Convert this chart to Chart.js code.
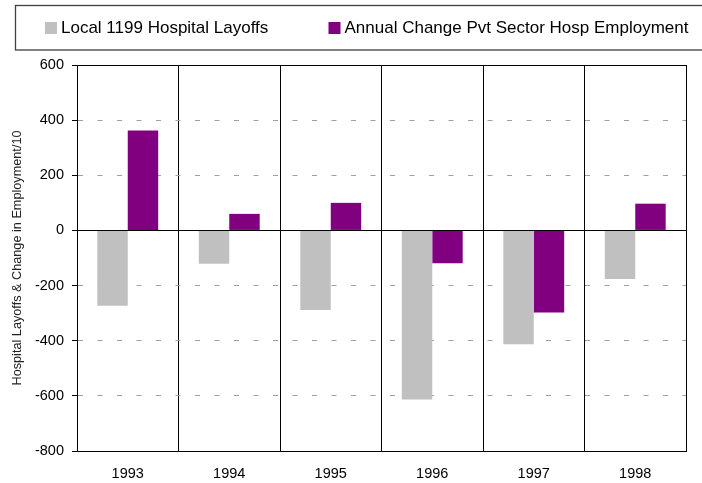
<!DOCTYPE html>
<html>
<head>
<meta charset="utf-8">
<script src="https://cdn.jsdelivr.net/npm/chart.js@4.4.1/dist/chart.umd.min.js"></script>
<style>
  html, body { margin: 0; padding: 0; background: #ffffff; }
  #wrap { width: 702px; height: 483px; position: relative; }
</style>
</head>
<body>
<div id="wrap"><canvas id="c" width="702" height="483"></canvas></div>
<script>
const categories = ['1993', '1994', '1995', '1996', '1997', '1998'];
const layoffs = [-273, -121, -289, -613, -413, -176];
const employmentChange = [362, 60, 100, -119, -298, 97];
const seriesNames = ['Local 1199 Hospital Layoffs', 'Annual Change Pvt Sector Hosp Employment'];
const yMin = -800, yMax = 600, yStep = 200;
const yTitle = 'Hospital Layoffs & Change in Employment/10';

const FONT = '"Liberation Sans", Arial, Helvetica, sans-serif';

const boxLegend = {
  id: 'boxLegend',
  afterDraw(chart) {
    const ctx = chart.ctx;
    ctx.save();
    ctx.strokeStyle = '#404040';
    ctx.lineWidth = 1.3;
    ctx.strokeRect(15.5, 5.5, 692, 44.5);
    const swatchX = [45, 328.5];
    ctx.font = '17px ' + FONT;
    ctx.textBaseline = 'middle';
    ctx.textAlign = 'left';
    chart.data.datasets.forEach((ds, i) => {
      ctx.fillStyle = ds.backgroundColor;
      ctx.fillRect(swatchX[i], 22, 12, 12);
      ctx.fillStyle = '#000000';
      ctx.fillText(ds.label, swatchX[i] + 16, 28.5);
    });
    ctx.restore();
  }
};

const isFrame = v => v === 0 || v === yMax || v === yMin;

new Chart(document.getElementById('c'), {
  type: 'bar',
  data: {
    labels: categories,
    datasets: [
      { label: seriesNames[0], data: layoffs, backgroundColor: '#C0C0C0', borderWidth: 0 },
      { label: seriesNames[1], data: employmentChange, backgroundColor: '#800080', borderWidth: 0 }
    ]
  },
  options: {
    responsive: false,
    animation: false,
    devicePixelRatio: 1,
    layout: { padding: { left: 0, right: 16, top: 65, bottom: 0 } },
    datasets: { bar: { categoryPercentage: 0.6, barPercentage: 1.0 } },
    plugins: {
      legend: { display: false },
      tooltip: { enabled: false }
    },
    scales: {
      x: {
        afterFit(s) { s.height = 32; },
        grid: { offset: true, color: '#000000', lineWidth: 1, drawTicks: false },
        border: { display: true, color: '#000000', width: 1 },
        ticks: { color: '#000000', padding: 14, font: { family: FONT, size: 14.5 } }
      },
      y: {
        min: yMin,
        max: yMax,
        afterFit(s) { s.width = 77; },
        grid: {
          color: c => (c.type !== 'tick' || isFrame(c.tick.value)) ? '#000000' : '#a0a0a0',
          lineWidth: 1,
          tickLength: 5,
          tickColor: '#000000',
          tickBorderDash: []
        },
        border: {
          display: true,
          color: '#000000',
          width: 1,
          dash: c => (c.type !== 'tick' || isFrame(c.tick.value)) ? [] : [5, 14.5],
          dashOffset: 0
        },
        ticks: { stepSize: yStep, color: '#000000', padding: 8, font: { family: FONT, size: 14.5 } },
        title: {
          display: true,
          text: yTitle,
          color: '#222222',
          font: { family: FONT, size: 12.7 },
          padding: { top: 9.4, bottom: 0 }
        }
      }
    }
  },
  plugins: [boxLegend]
});
</script>
</body>
</html>
